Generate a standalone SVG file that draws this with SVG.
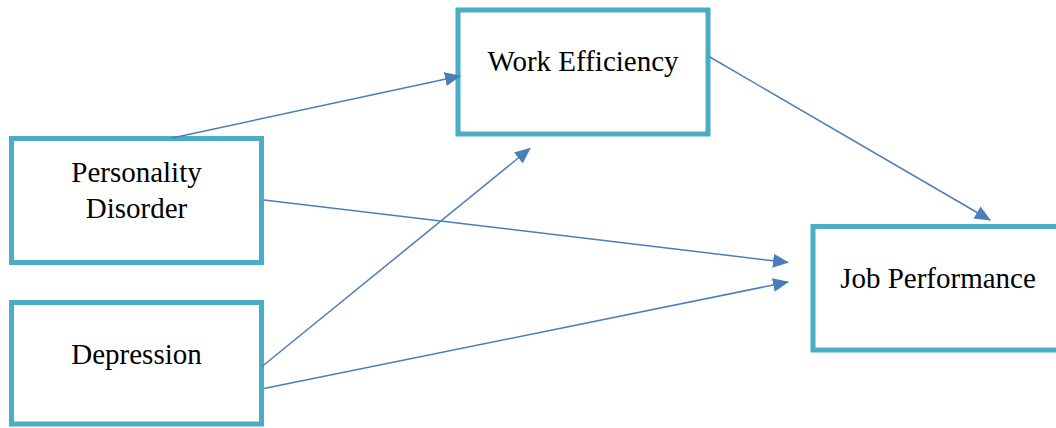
<svg xmlns="http://www.w3.org/2000/svg" width="1056" height="428" viewBox="0 0 1056 428">
  <style>
    .box { fill: #ffffff; stroke: #4BACC6; stroke-width: 5; }
    .lbl { font-family: "Liberation Serif", "Times New Roman", serif; font-size: 29px; fill: #000000; text-anchor: middle; }
    .conn { stroke: #4A7EBB; stroke-width: 1.5; fill: none; marker-end: url(#arrow); }
  </style>
  <defs>
    <marker id="arrow" viewBox="0 0 16 14" refX="15" refY="7" markerWidth="16" markerHeight="14" markerUnits="userSpaceOnUse" orient="auto">
      <path d="M0,0 L16,7 L0,14 z" fill="#4A7EBB"/>
    </marker>
  </defs>
  <rect width="1056" height="428" fill="#ffffff"/>
  <g id="node-personality">
    <rect class="box" x="11.5" y="138.5" width="250" height="124"/>
    <text class="lbl" x="136.5" y="182">Personality</text>
    <text class="lbl" x="136.5" y="217.5">Disorder</text>
  </g>
  <g id="node-depression">
    <rect class="box" x="11.5" y="302.5" width="250" height="121.5"/>
    <text class="lbl" x="136.5" y="363.5">Depression</text>
  </g>
  <g id="node-work-efficiency">
    <rect class="box" x="458" y="10" width="250" height="124"/>
    <text class="lbl" x="583" y="71">Work Efficiency</text>
  </g>
  <g id="node-job-performance">
    <rect class="box" x="813" y="226.5" width="250" height="123.5"/>
    <text class="lbl" x="938" y="287.5">Job Performance</text>
  </g>
  <g id="connectors">
    <line class="conn" x1="172" y1="138" x2="460" y2="76"/>
    <line class="conn" x1="262" y1="366.5" x2="530" y2="148.5"/>
    <line class="conn" x1="264" y1="200" x2="788" y2="262.5"/>
    <line class="conn" x1="264" y1="388.5" x2="788" y2="282"/>
    <line class="conn" x1="709" y1="56.5" x2="990" y2="220"/>
  </g>
</svg>
